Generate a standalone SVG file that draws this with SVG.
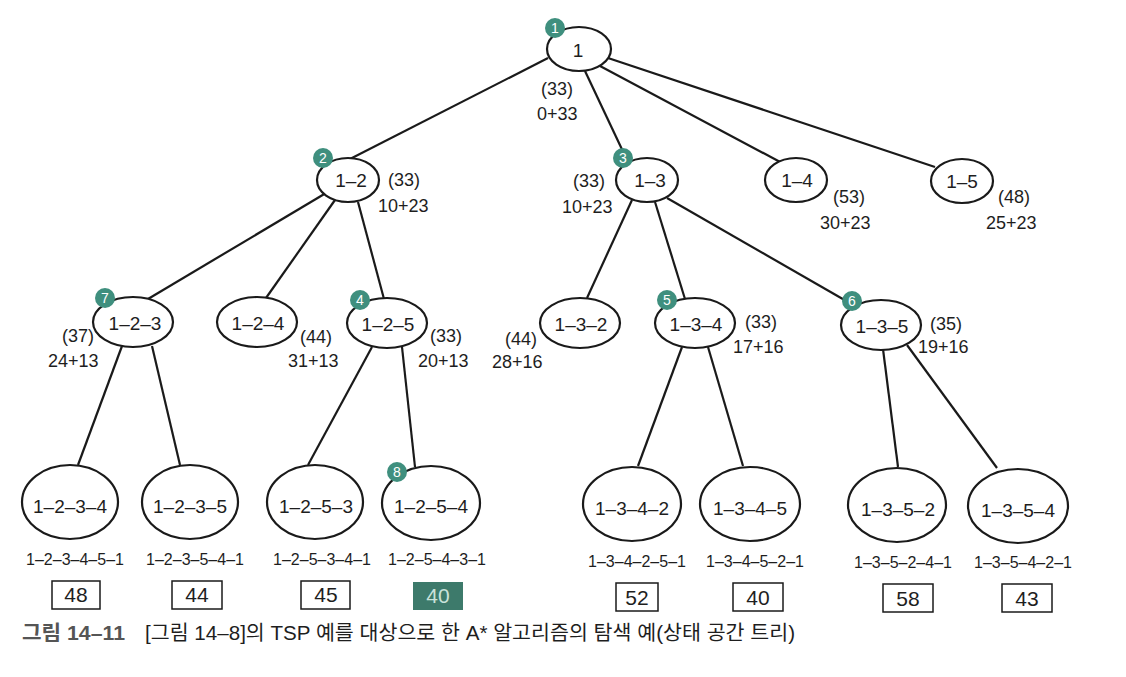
<svg xmlns="http://www.w3.org/2000/svg" width="1126" height="677" viewBox="0 0 1126 677">
<style>
.n ellipse{fill:#fff;stroke:#1a1a1a;stroke-width:2.2}
.t{font-family:"Liberation Sans",Arial,sans-serif;fill:#1e1e1e}
.nl{font-size:19px;text-anchor:middle}
.lb{font-size:18px}
.pl{font-size:16px;text-anchor:middle}
.bx{font-size:21px;text-anchor:middle}
.badge circle{fill:#3f8f7e}
.badge text{font-family:"Liberation Sans",Arial,sans-serif;font-size:14px;fill:#fff;text-anchor:middle}
.box{fill:#fff;stroke:#1a1a1a;stroke-width:1.5}
#edges line{stroke:#1a1a1a;stroke-width:2.2}
</style>
<rect width="1126" height="677" fill="#fff"/>
<g id="edges">
<line x1="548" y1="58" x2="350" y2="159"/>
<line x1="585" y1="71" x2="627" y2="160"/>
<line x1="600" y1="66" x2="782" y2="163"/>
<line x1="608" y1="58" x2="935" y2="167"/>
<line x1="326" y1="193" x2="148" y2="299"/>
<line x1="335" y1="200" x2="266" y2="298"/>
<line x1="358" y1="202" x2="384" y2="299"/>
<line x1="632" y1="200" x2="587" y2="298"/>
<line x1="655" y1="202" x2="685" y2="299"/>
<line x1="667" y1="198" x2="848" y2="302"/>
<line x1="122" y1="346" x2="78" y2="465"/>
<line x1="152" y1="346" x2="180" y2="465"/>
<line x1="372" y1="347" x2="308" y2="465"/>
<line x1="402" y1="347" x2="415" y2="467"/>
<line x1="682" y1="347" x2="638" y2="466"/>
<line x1="708" y1="347" x2="743" y2="466"/>
<line x1="883" y1="349" x2="898" y2="467"/>
<line x1="907" y1="345" x2="997" y2="468"/>
</g>
<g id="n1" class="n"><ellipse cx="579" cy="49" rx="32" ry="22"/><text class="t nl" x="578" y="57">1</text>
<text class="t lb" x="541" y="95">(33)</text><text class="t lb" x="537" y="120">0+33</text></g>
<g id="n12" class="n"><ellipse cx="348" cy="180" rx="31" ry="22"/><text class="t nl" x="351" y="187">1–2</text>
<text class="t lb" x="388" y="186">(33)</text><text class="t lb" x="378" y="212">10+23</text></g>
<g id="n13" class="n"><ellipse cx="647" cy="180" rx="31" ry="22"/><text class="t nl" x="650" y="187">1–3</text>
<text class="t lb" x="573" y="187">(33)</text><text class="t lb" x="562" y="213">10+23</text></g>
<g id="n14" class="n"><ellipse cx="796" cy="180" rx="31" ry="22"/><text class="t nl" x="797" y="187">1–4</text>
<text class="t lb" x="833" y="203">(53)</text><text class="t lb" x="820" y="229">30+23</text></g>
<g id="n15" class="n"><ellipse cx="962" cy="181" rx="31" ry="22"/><text class="t nl" x="962" y="188">1–5</text>
<text class="t lb" x="998" y="203">(48)</text><text class="t lb" x="986" y="229">25+23</text></g>
<g id="n123" class="n"><ellipse cx="133" cy="322" rx="40" ry="25"/><text class="t nl" x="135" y="330">1–2–3</text>
<text class="t lb" x="62" y="342">(37)</text><text class="t lb" x="48" y="367">24+13</text></g>
<g id="n124" class="n"><ellipse cx="257" cy="322" rx="40" ry="25"/><text class="t nl" x="258" y="330">1–2–4</text>
<text class="t lb" x="300" y="343">(44)</text><text class="t lb" x="288" y="367">31+13</text></g>
<g id="n125" class="n"><ellipse cx="387" cy="323" rx="40" ry="25"/><text class="t nl" x="388" y="331">1–2–5</text>
<text class="t lb" x="430" y="342">(33)</text><text class="t lb" x="418" y="367">20+13</text></g>
<g id="n132" class="n"><ellipse cx="580" cy="323" rx="40" ry="25"/><text class="t nl" x="581" y="331">1–3–2</text>
<text class="t lb" x="505" y="345">(44)</text><text class="t lb" x="492" y="368">28+16</text></g>
<g id="n134" class="n"><ellipse cx="695" cy="323" rx="40" ry="25"/><text class="t nl" x="696" y="331">1–3–4</text>
<text class="t lb" x="745" y="328">(33)</text><text class="t lb" x="733" y="353">17+16</text></g>
<g id="n135" class="n"><ellipse cx="881" cy="325" rx="40" ry="25"/><text class="t nl" x="882" y="333">1–3–5</text>
<text class="t lb" x="930" y="330">(35)</text><text class="t lb" x="918" y="353">19+16</text></g>
<g id="n1234" class="n"><ellipse cx="70" cy="502" rx="48" ry="37"/><text class="t nl" x="70" y="513">1–2–3–4</text>
<text class="t pl" x="75" y="565">1–2–3–4–5–1</text><rect class="box" x="52" y="581" width="48" height="28"/><text class="t bx" x="76" y="602">48</text></g>
<g id="n1235" class="n"><ellipse cx="190" cy="502" rx="48" ry="37"/><text class="t nl" x="190" y="513">1–2–3–5</text>
<text class="t pl" x="195" y="565">1–2–3–5–4–1</text><rect class="box" x="172" y="581" width="50" height="28"/><text class="t bx" x="197" y="602">44</text></g>
<g id="n1253" class="n"><ellipse cx="315" cy="502" rx="48" ry="37"/><text class="t nl" x="316" y="513">1–2–5–3</text>
<text class="t pl" x="322" y="565">1–2–5–3–4–1</text><rect class="box" x="301" y="581" width="49" height="28"/><text class="t bx" x="326" y="602">45</text></g>
<g id="n1254" class="n"><ellipse cx="431" cy="503" rx="49" ry="37"/><text class="t nl" x="431" y="513">1–2–5–4</text>
<text class="t pl" x="437" y="565">1–2–5–4–3–1</text><rect x="413" y="582" width="50" height="28" fill="#3d7a6b"/><text class="t bx" x="438" y="603" style="fill:#c9e2da">40</text></g>
<g id="n1342" class="n"><ellipse cx="632" cy="504" rx="49" ry="37"/><text class="t nl" x="632" y="515">1–3–4–2</text>
<text class="t pl" x="637" y="567">1–3–4–2–5–1</text><rect class="box" x="616" y="583" width="42" height="28"/><text class="t bx" x="637" y="605">52</text></g>
<g id="n1345" class="n"><ellipse cx="750" cy="504" rx="50" ry="37"/><text class="t nl" x="750" y="515">1–3–4–5</text>
<text class="t pl" x="755" y="567">1–3–4–5–2–1</text><rect class="box" x="733" y="583" width="50" height="28"/><text class="t bx" x="758" y="605">40</text></g>
<g id="n1352" class="n"><ellipse cx="897" cy="505" rx="49" ry="37"/><text class="t nl" x="898" y="516">1–3–5–2</text>
<text class="t pl" x="903" y="568">1–3–5–2–4–1</text><rect class="box" x="883" y="584" width="50" height="28"/><text class="t bx" x="908" y="606">58</text></g>
<g id="n1354" class="n"><ellipse cx="1018" cy="506" rx="50" ry="37"/><text class="t nl" x="1018" y="517">1–3–5–4</text>
<text class="t pl" x="1023" y="568">1–3–5–4–2–1</text><rect class="box" x="1002" y="584" width="50" height="28"/><text class="t bx" x="1027" y="606">43</text></g>
<g id="badges">
<g class="badge"><circle cx="555" cy="28" r="10"/><text x="555" y="33">1</text></g>
<g class="badge"><circle cx="323" cy="158" r="10"/><text x="323" y="163">2</text></g>
<g class="badge"><circle cx="623" cy="158" r="10"/><text x="623" y="163">3</text></g>
<g class="badge"><circle cx="360" cy="300" r="10"/><text x="360" y="305">4</text></g>
<g class="badge"><circle cx="667" cy="300" r="10"/><text x="667" y="305">5</text></g>
<g class="badge"><circle cx="852" cy="301" r="10"/><text x="852" y="306">6</text></g>
<g class="badge"><circle cx="105" cy="298" r="10"/><text x="105" y="303">7</text></g>
<g class="badge"><circle cx="397" cy="472" r="10"/><text x="397" y="477">8</text></g>
</g>
<g id="caption" font-family="'Liberation Sans','Noto Sans CJK KR',sans-serif" font-size="20">
<text x="22" y="640" fill="#555" font-weight="bold" textLength="103" lengthAdjust="spacingAndGlyphs">그림 14–11</text>
<text x="145" y="640" fill="#1e1e1e" textLength="650" lengthAdjust="spacingAndGlyphs">[그림 14–8]의 TSP 예를 대상으로 한 A* 알고리즘의 탐색 예(상태 공간 트리)</text>
</g>
</svg>
